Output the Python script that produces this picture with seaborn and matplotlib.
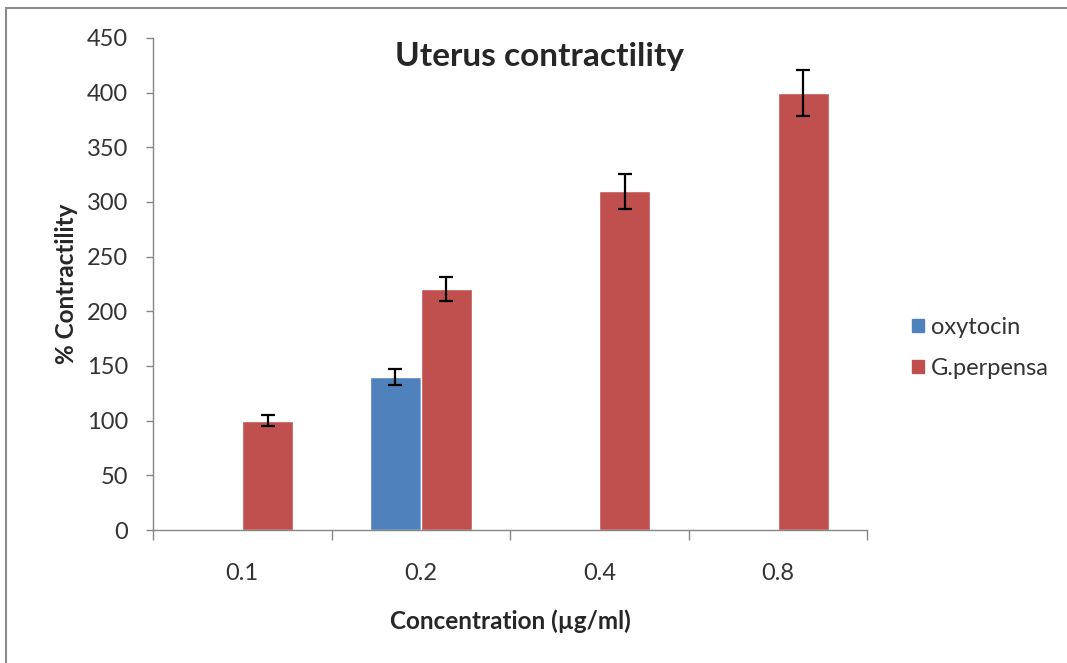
import matplotlib
matplotlib.use("Agg")
import matplotlib.pyplot as plt
import matplotlib.patches as mpatches
from matplotlib.ticker import MultipleLocator, FixedLocator
import seaborn as sns
import pandas as pd

# --- data ---
concentrations = ["0.1", "0.2", "0.4", "0.8"]
oxytocin = [None, 140, None, None]
oxytocin_err = [None, 7, None, None]
perpensa = [100, 220, 310, 400]
perpensa_err = [5, 11, 16, 21]
series_names = ["oxytocin", "G.perpensa"]

rows = []
for i, c in enumerate(concentrations):
    if oxytocin[i] is not None:
        rows.append({"Concentration": c, "Series": "oxytocin", "Value": oxytocin[i], "Err": oxytocin_err[i]})
    rows.append({"Concentration": c, "Series": "G.perpensa", "Value": perpensa[i], "Err": perpensa_err[i]})
df = pd.DataFrame(rows)

sns.set_theme(style="white")
plt.rcParams["font.family"] = ["Lato", "DejaVu Sans"]

fig = plt.figure(figsize=(10.67, 6.63), dpi=100)
ax = fig.add_axes([0.1434, 0.2006, 0.8126 - 0.1434, 0.9427 - 0.2006])

palette = {"oxytocin": "#4F81BD", "G.perpensa": "#C0504D"}
sns.barplot(data=df, x="Concentration", y="Value", hue="Series",
            order=concentrations, hue_order=series_names, palette=palette,
            width=0.57, errorbar=None, saturation=1, ax=ax, legend=True)

# error bars on each bar
for cont, name in zip(ax.containers, series_names):
    sub = df[df["Series"] == name]
    for bar, (_, r) in zip(cont, sub.iterrows()):
        xc = bar.get_x() + bar.get_width() / 2
        ax.errorbar(xc, bar.get_height(), yerr=r["Err"], fmt="none",
                    ecolor="black", elinewidth=1.6, capsize=5, capthick=1.6)

ax.set_xlim(-0.5, len(concentrations) - 0.5)
ax.set_ylim(0, 450)
ax.yaxis.set_major_locator(MultipleLocator(50))

# category boundary ticks like Excel
ax.xaxis.set_minor_locator(FixedLocator([i - 0.5 for i in range(len(concentrations) + 1)]))
ax.tick_params(axis="x", which="major", length=0, labelsize=17, colors="#333333", pad=24)
ax.tick_params(axis="x", which="minor", length=7, width=1, color="#868686", bottom=True)
ax.tick_params(axis="y", which="major", length=5, width=1, color="#868686",
               left=True, labelsize=17, labelcolor="#333333", pad=13)

for s in ["top", "right"]:
    ax.spines[s].set_visible(False)
for s in ["left", "bottom"]:
    ax.spines[s].set_color("#868686")
    ax.spines[s].set_linewidth(1)

ax.set_xlabel("Concentration (µg/ml)", fontsize=17.5, fontweight="bold", labelpad=18)
ax.set_ylabel("% Contractility", fontsize=17.5, fontweight="bold", labelpad=6)
fig.text(0.506, 0.915, "Uterus contractility", ha="center", va="center",
         fontsize=24, fontweight="bold")

handles = [mpatches.Patch(color=palette[n], label=n) for n in series_names]
ax.legend(handles=handles, loc="center left", bbox_to_anchor=(1.033, 0.37),
          frameon=False, fontsize=17, handlelength=0.5, handleheight=0.5,
          handletextpad=0.3, labelspacing=0.85, labelcolor="#333333")

# chart-area border
fig.patches.append(mpatches.Rectangle((0.006, -0.01), 1.1, 0.998, transform=fig.transFigure,
                                      fill=False, edgecolor="#8c8c8c", linewidth=1.5))

fig.savefig("out.png", dpi=100)
